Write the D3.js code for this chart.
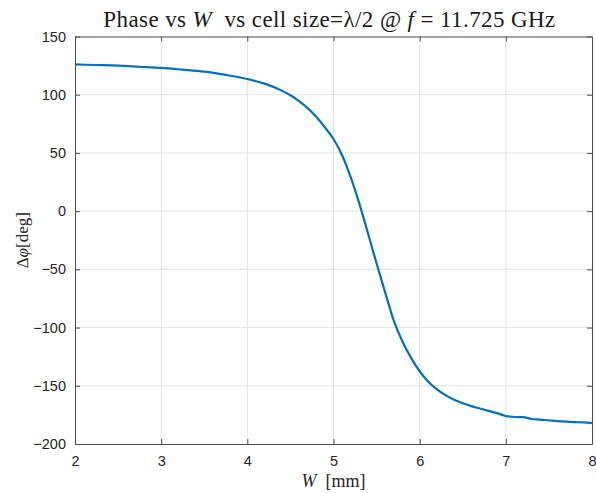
<!DOCTYPE html>
<html>
<head>
<meta charset="utf-8">
<script src="https://cdn.jsdelivr.net/npm/d3@7"></script>
<style>
  body { margin: 0; background: #fff; }
</style>
</head>
<body>
<script>
// cell width W [mm]
var widths = [2.0, 2.25, 2.5, 2.75, 3.0, 3.25, 3.5, 3.75, 4.0, 4.2, 4.4, 4.5, 4.6, 4.7, 4.8, 4.9,
    5.0, 5.1, 5.2, 5.3, 5.4, 5.5, 5.6, 5.7, 5.8, 5.9, 6.0, 6.1, 6.2, 6.3, 6.4, 6.5, 6.6, 6.7,
    6.8, 6.9, 7.0, 7.1, 7.2, 7.3, 7.4, 7.5, 7.6, 7.7, 7.8, 7.9, 8.0];
// phase difference [deg]
var phases = [126, 125.5, 125, 124, 123, 121.5, 119.8, 117, 113.5, 109.5, 103.5, 99.5, 94.5, 88.5, 81, 72,
    62, 48, 29, 6.5, -19, -45, -70, -94, -112, -126, -137.5, -146.5, -153, -158, -162, -165, -167.5, -169.5,
    -171.5, -173.5, -176, -176.8, -177, -178.5, -179, -179.7, -180.3, -180.8, -181.2, -181.5, -182];

var xTicks = [2, 3, 4, 5, 6, 7, 8];
var yTicks = [150, 100, 50, 0, -50, -100, -150, -200];

function init() {
    var w = 596, h = 493;
    var left = 75, right = 592, top = 36.5, bottom = 444;

    var data = widths.map(function (d, i) { return { w: d, p: phases[i] }; });

    var xScale = d3.scaleLinear().domain([2, 8]).range([left, right]);
    var yScale = d3.scaleLinear().domain([-200, 150]).range([bottom, top]);

    var svg = d3.select("body").append("svg")
        .attr("width", w)
        .attr("height", h);

    // grid
    svg.append("g").selectAll("line.gx")
        .data(xTicks.slice(1, -1))
        .enter().append("line")
        .attr("x1", function (d) { return xScale(d); })
        .attr("x2", function (d) { return xScale(d); })
        .attr("y1", top).attr("y2", bottom)
        .attr("stroke", "#e3e3e3").attr("stroke-width", 1);
    svg.append("g").selectAll("line.gy")
        .data(yTicks.slice(1, -1))
        .enter().append("line")
        .attr("y1", function (d) { return yScale(d); })
        .attr("y2", function (d) { return yScale(d); })
        .attr("x1", left).attr("x2", right)
        .attr("stroke", "#e3e3e3").attr("stroke-width", 1);

    // curve
    var line = d3.line()
        .curve(d3.curveMonotoneX)
        .x(function (d) { return xScale(d.w); })
        .y(function (d) { return yScale(d.p); });
    svg.append("path")
        .datum(data)
        .attr("d", line)
        .attr("fill", "none")
        .attr("stroke", "#0072BD")
        .attr("stroke-width", 2.2)
        .attr("stroke-linejoin", "round");

    // axes (box on, ticks inward)
    var axisColor = "#4d4d4d";
    var font = "'Liberation Sans', Arial, sans-serif";

    var xAxis = svg.append("g")
        .attr("transform", "translate(0," + bottom + ")")
        .call(d3.axisBottom(xScale).tickValues(xTicks).tickFormat(d3.format("d"))
            .tickSizeInner(-5).tickSizeOuter(0).tickPadding(12));
    var xTop = svg.append("g")
        .attr("transform", "translate(0," + top + ")")
        .call(d3.axisTop(xScale).tickValues(xTicks).tickSizeInner(-5).tickSizeOuter(0).tickFormat(""));
    var yAxis = svg.append("g")
        .attr("transform", "translate(" + left + ",0)")
        .call(d3.axisLeft(yScale).tickValues(yTicks).tickSizeInner(-5).tickSizeOuter(0).tickPadding(9));
    var yRight = svg.append("g")
        .attr("transform", "translate(" + right + ",0)")
        .call(d3.axisRight(yScale).tickValues(yTicks).tickSizeInner(-5).tickSizeOuter(0).tickFormat(""));

    [xAxis, xTop, yAxis, yRight].forEach(function (g) {
        g.select(".domain").attr("stroke", axisColor);
        g.selectAll(".tick line").attr("stroke", axisColor);
        g.selectAll("text")
            .attr("fill", "#262626")
            .style("font-family", font)
            .style("font-size", "14.5px");
    });

    var serif = "'Liberation Serif', 'DejaVu Serif', serif";

    // title
    var title = svg.append("text")
        .attr("x", (left + right) / 2 - 4)
        .attr("y", 27)
        .attr("text-anchor", "middle")
        .attr("fill", "#1a1a1a")
        .style("font-family", serif)
        .style("font-size", "23px")
        .style("letter-spacing", "0.4px")
        .style("white-space", "pre");
    title.append("tspan").text("Phase vs ");
    title.append("tspan").style("font-style", "italic").text("W");
    title.append("tspan").text("  vs cell size=λ/2 @ ");
    title.append("tspan").style("font-style", "italic").text("f");
    title.append("tspan").text(" = 11.725 GHz");

    // x label
    var xl = svg.append("text")
        .attr("x", (left + right) / 2)
        .attr("y", 487)
        .attr("text-anchor", "middle")
        .attr("fill", "#262626")
        .style("font-family", serif)
        .style("font-size", "18px")
        .style("white-space", "pre");
    xl.append("tspan").style("font-style", "italic").text("W");
    xl.append("tspan").text("  [mm]");

    // y label
    var yl = svg.append("text")
        .attr("transform", "translate(28," + ((top + bottom) / 2) + ") rotate(-90)")
        .attr("text-anchor", "middle")
        .attr("fill", "#262626")
        .style("font-family", serif)
        .style("font-size", "17px");
    yl.append("tspan").text("Δ");
    yl.append("tspan").style("font-style", "italic").text("φ");
    yl.append("tspan").text("[deg]");
}

window.onload = init;
</script>
</body>
</html>
